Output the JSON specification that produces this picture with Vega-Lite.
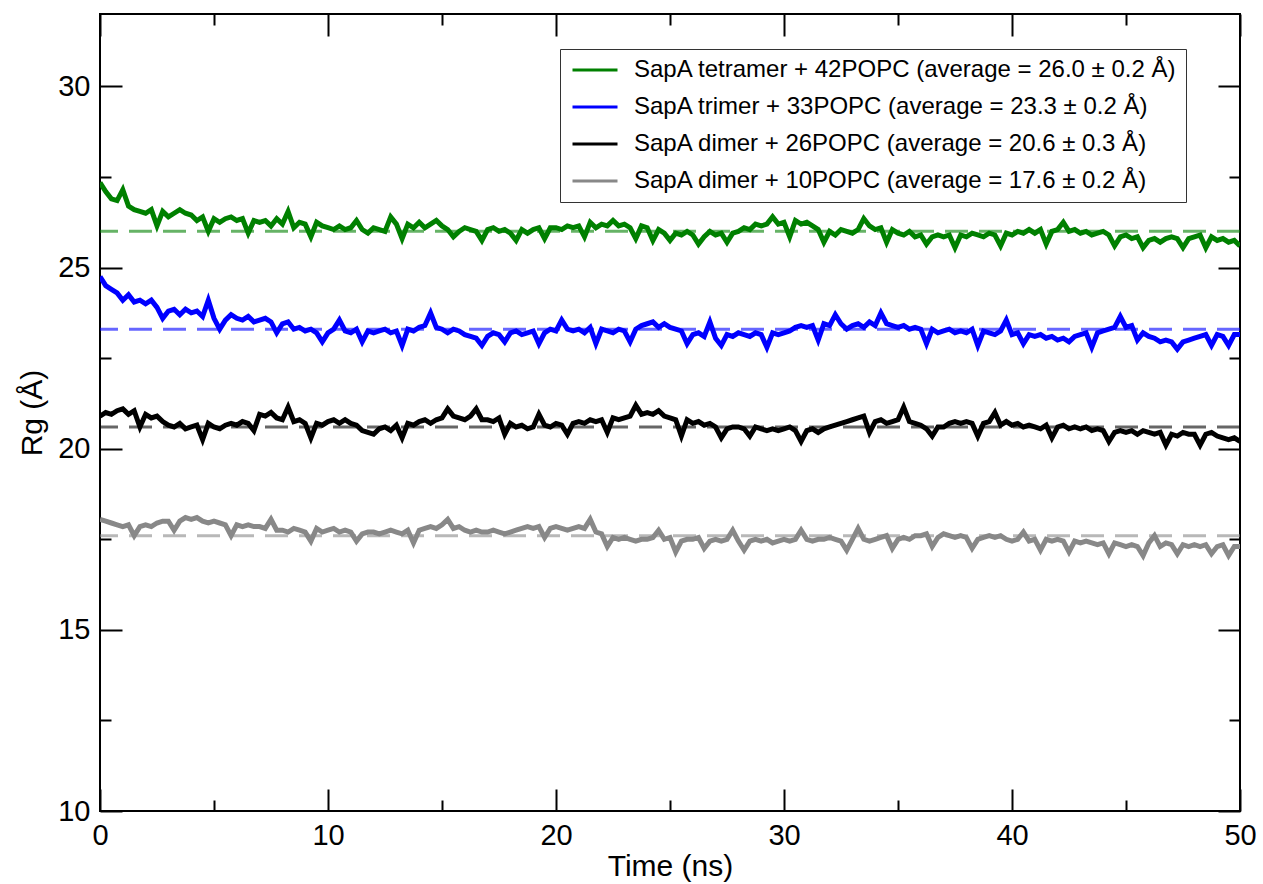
{
"$schema": "https://vega.github.io/schema/vega-lite/v6.json",
"width": 1140,
"height": 797,
"autosize": {"type": "none"},
"padding": {"left": 100, "top": 14, "right": 23, "bottom": 73},
"background": "white",
"config": {
  "font": "Liberation Sans",
  "view": {"stroke": "black", "strokeWidth": 2},
  "axis": {"domain": false, "grid": false, "tickColor": "black", "tickWidth": 2, "labelColor": "black", "titleColor": "black", "labelFont": "Liberation Sans", "titleFont": "Liberation Sans", "titleFontWeight": "normal", "labelFontSize": 29, "titleFontSize": 30, "labelFlush": false}
},
"datasets": {
"traj": [
{"t":0,"a":27.35,"b":24.75,"c":20.9,"d":18.05},
{"t":0.25,"a":27.1,"b":24.5,"c":21.0,"d":18.0},
{"t":0.5,"a":26.9,"b":24.4,"c":20.95,"d":17.95},
{"t":0.75,"a":26.85,"b":24.3,"c":21.05,"d":17.9},
{"t":1,"a":27.15,"b":24.1,"c":21.1,"d":17.85},
{"t":1.25,"a":26.7,"b":24.25,"c":20.95,"d":17.9},
{"t":1.5,"a":26.6,"b":24.05,"c":21.05,"d":17.6},
{"t":1.75,"a":26.55,"b":24.1,"c":20.6,"d":17.85},
{"t":2,"a":26.5,"b":24.0,"c":20.95,"d":17.9},
{"t":2.25,"a":26.6,"b":24.1,"c":20.85,"d":17.85},
{"t":2.5,"a":26.15,"b":23.9,"c":20.9,"d":17.95},
{"t":2.75,"a":26.55,"b":23.6,"c":20.75,"d":18.0},
{"t":3,"a":26.4,"b":23.8,"c":20.65,"d":18.0},
{"t":3.25,"a":26.5,"b":23.85,"c":20.6,"d":17.75},
{"t":3.5,"a":26.6,"b":23.7,"c":20.7,"d":18.0},
{"t":3.75,"a":26.5,"b":23.85,"c":20.55,"d":18.1},
{"t":4,"a":26.45,"b":23.75,"c":20.6,"d":18.05},
{"t":4.25,"a":26.3,"b":23.8,"c":20.65,"d":18.1},
{"t":4.5,"a":26.4,"b":23.65,"c":20.25,"d":18.0},
{"t":4.75,"a":26.0,"b":24.1,"c":20.7,"d":17.95},
{"t":5,"a":26.35,"b":23.6,"c":20.6,"d":18.0},
{"t":5.25,"a":26.25,"b":23.3,"c":20.55,"d":17.95},
{"t":5.5,"a":26.35,"b":23.55,"c":20.65,"d":17.9},
{"t":5.75,"a":26.4,"b":23.7,"c":20.7,"d":17.6},
{"t":6,"a":26.3,"b":23.6,"c":20.65,"d":17.9},
{"t":6.25,"a":26.35,"b":23.55,"c":20.75,"d":17.85},
{"t":6.5,"a":25.95,"b":23.65,"c":20.7,"d":17.9},
{"t":6.75,"a":26.3,"b":23.5,"c":20.5,"d":17.85},
{"t":7,"a":26.25,"b":23.55,"c":20.95,"d":17.85},
{"t":7.25,"a":26.3,"b":23.6,"c":20.9,"d":17.8},
{"t":7.5,"a":26.15,"b":23.5,"c":21.0,"d":18.05},
{"t":7.75,"a":26.35,"b":23.2,"c":20.85,"d":17.75},
{"t":8,"a":26.2,"b":23.45,"c":20.8,"d":17.75},
{"t":8.25,"a":26.55,"b":23.5,"c":21.15,"d":17.7},
{"t":8.5,"a":26.1,"b":23.3,"c":20.75,"d":17.8},
{"t":8.75,"a":26.25,"b":23.35,"c":20.8,"d":17.75},
{"t":9,"a":26.2,"b":23.25,"c":20.7,"d":17.7},
{"t":9.25,"a":25.85,"b":23.3,"c":20.3,"d":17.45},
{"t":9.5,"a":26.25,"b":23.2,"c":20.7,"d":17.8},
{"t":9.75,"a":26.15,"b":22.95,"c":20.65,"d":17.7},
{"t":10,"a":26.1,"b":23.2,"c":20.75,"d":17.75},
{"t":10.25,"a":26.05,"b":23.3,"c":20.8,"d":17.8},
{"t":10.5,"a":26.15,"b":23.55,"c":20.7,"d":17.7},
{"t":10.75,"a":26.05,"b":23.25,"c":20.8,"d":17.75},
{"t":11,"a":26.1,"b":23.2,"c":20.7,"d":17.7},
{"t":11.25,"a":26.3,"b":23.3,"c":20.65,"d":17.45},
{"t":11.5,"a":26.05,"b":22.95,"c":20.5,"d":17.65},
{"t":11.75,"a":25.95,"b":23.25,"c":20.45,"d":17.7},
{"t":12,"a":26.1,"b":23.2,"c":20.4,"d":17.7},
{"t":12.25,"a":26.05,"b":23.25,"c":20.55,"d":17.65},
{"t":12.5,"a":26.0,"b":23.3,"c":20.6,"d":17.7},
{"t":12.75,"a":26.4,"b":23.2,"c":20.5,"d":17.75},
{"t":13,"a":26.2,"b":23.25,"c":20.65,"d":17.7},
{"t":13.25,"a":25.8,"b":22.85,"c":20.3,"d":17.65},
{"t":13.5,"a":26.2,"b":23.3,"c":20.7,"d":17.75},
{"t":13.75,"a":26.1,"b":23.25,"c":20.65,"d":17.4},
{"t":14,"a":26.25,"b":23.35,"c":20.75,"d":17.75},
{"t":14.25,"a":26.1,"b":23.4,"c":20.8,"d":17.8},
{"t":14.5,"a":26.2,"b":23.75,"c":20.7,"d":17.85},
{"t":14.75,"a":26.3,"b":23.35,"c":20.8,"d":17.8},
{"t":15,"a":26.15,"b":23.3,"c":20.85,"d":17.9},
{"t":15.25,"a":26.05,"b":23.2,"c":21.1,"d":18.05},
{"t":15.5,"a":25.85,"b":23.3,"c":20.9,"d":17.8},
{"t":15.75,"a":26.0,"b":23.25,"c":20.85,"d":17.85},
{"t":16,"a":26.1,"b":23.15,"c":20.8,"d":17.75},
{"t":16.25,"a":26.05,"b":23.1,"c":20.9,"d":17.7},
{"t":16.5,"a":26.0,"b":23.05,"c":21.1,"d":17.75},
{"t":16.75,"a":25.75,"b":22.85,"c":20.8,"d":17.7},
{"t":17,"a":26.05,"b":23.1,"c":20.8,"d":17.7},
{"t":17.25,"a":26.1,"b":23.2,"c":20.75,"d":17.75},
{"t":17.5,"a":26.0,"b":23.15,"c":20.85,"d":17.7},
{"t":17.75,"a":26.05,"b":22.95,"c":20.4,"d":17.65},
{"t":18,"a":25.95,"b":23.2,"c":20.7,"d":17.7},
{"t":18.25,"a":25.75,"b":23.25,"c":20.6,"d":17.75},
{"t":18.5,"a":26.05,"b":23.15,"c":20.65,"d":17.8},
{"t":18.75,"a":25.95,"b":23.2,"c":20.55,"d":17.85},
{"t":19,"a":26.05,"b":23.25,"c":20.6,"d":17.8},
{"t":19.25,"a":26.1,"b":22.9,"c":20.95,"d":17.85},
{"t":19.5,"a":25.8,"b":23.2,"c":20.65,"d":17.55},
{"t":19.75,"a":26.1,"b":23.3,"c":20.6,"d":17.8},
{"t":20,"a":26.1,"b":23.25,"c":20.7,"d":17.85},
{"t":20.25,"a":26.05,"b":23.55,"c":20.65,"d":17.8},
{"t":20.5,"a":26.15,"b":23.3,"c":20.4,"d":17.75},
{"t":20.75,"a":26.1,"b":23.25,"c":20.7,"d":17.8},
{"t":21,"a":26.15,"b":23.3,"c":20.75,"d":17.85},
{"t":21.25,"a":25.85,"b":23.2,"c":20.7,"d":17.8},
{"t":21.5,"a":26.25,"b":23.35,"c":20.8,"d":18.05},
{"t":21.75,"a":26.1,"b":22.9,"c":20.75,"d":17.7},
{"t":22,"a":26.2,"b":23.3,"c":20.8,"d":17.65},
{"t":22.25,"a":26.15,"b":23.25,"c":20.45,"d":17.3},
{"t":22.5,"a":26.3,"b":23.2,"c":20.85,"d":17.55},
{"t":22.75,"a":26.15,"b":23.3,"c":20.8,"d":17.5},
{"t":23,"a":26.2,"b":23.25,"c":20.85,"d":17.55},
{"t":23.25,"a":26.1,"b":22.95,"c":20.9,"d":17.5},
{"t":23.5,"a":25.8,"b":23.3,"c":21.2,"d":17.45},
{"t":23.75,"a":26.15,"b":23.4,"c":20.95,"d":17.5},
{"t":24,"a":26.1,"b":23.45,"c":21.0,"d":17.5},
{"t":24.25,"a":25.75,"b":23.5,"c":20.95,"d":17.55},
{"t":24.5,"a":26.05,"b":23.35,"c":21.05,"d":17.75},
{"t":24.75,"a":25.95,"b":23.45,"c":20.9,"d":17.5},
{"t":25,"a":25.75,"b":23.35,"c":20.85,"d":17.55},
{"t":25.25,"a":25.95,"b":23.3,"c":20.8,"d":17.15},
{"t":25.5,"a":25.9,"b":23.25,"c":20.35,"d":17.45},
{"t":25.75,"a":26.0,"b":22.9,"c":20.8,"d":17.5},
{"t":26,"a":25.9,"b":23.15,"c":20.7,"d":17.5},
{"t":26.25,"a":25.65,"b":23.2,"c":20.75,"d":17.55},
{"t":26.5,"a":25.85,"b":23.1,"c":20.65,"d":17.25},
{"t":26.75,"a":26.0,"b":23.5,"c":20.7,"d":17.45},
{"t":27,"a":25.9,"b":23.05,"c":20.6,"d":17.5},
{"t":27.25,"a":25.95,"b":22.85,"c":20.3,"d":17.45},
{"t":27.5,"a":25.7,"b":23.15,"c":20.55,"d":17.5},
{"t":27.75,"a":25.95,"b":23.1,"c":20.6,"d":17.75},
{"t":28,"a":26.0,"b":23.2,"c":20.6,"d":17.45},
{"t":28.25,"a":26.1,"b":23.15,"c":20.55,"d":17.2},
{"t":28.5,"a":26.05,"b":23.1,"c":20.35,"d":17.45},
{"t":28.75,"a":26.2,"b":23.2,"c":20.6,"d":17.5},
{"t":29,"a":26.15,"b":23.15,"c":20.55,"d":17.45},
{"t":29.25,"a":26.2,"b":22.8,"c":20.5,"d":17.5},
{"t":29.5,"a":26.4,"b":23.2,"c":20.55,"d":17.4},
{"t":29.75,"a":26.2,"b":23.15,"c":20.5,"d":17.45},
{"t":30,"a":26.25,"b":23.2,"c":20.55,"d":17.5},
{"t":30.25,"a":25.85,"b":23.25,"c":20.6,"d":17.45},
{"t":30.5,"a":26.3,"b":23.35,"c":20.5,"d":17.5},
{"t":30.75,"a":26.2,"b":23.4,"c":20.2,"d":17.75},
{"t":31,"a":26.25,"b":23.35,"c":20.5,"d":17.5},
{"t":31.25,"a":26.15,"b":23.4,"c":20.55,"d":17.45},
{"t":31.5,"a":26.05,"b":23.0,"c":20.45,"d":17.5},
{"t":31.75,"a":25.7,"b":23.45,"c":20.55,"d":17.5},
{"t":32,"a":26.0,"b":23.4,"c":20.6,"d":17.55},
{"t":32.25,"a":25.9,"b":23.7,"c":20.65,"d":17.5},
{"t":32.5,"a":26.05,"b":23.45,"c":20.7,"d":17.45},
{"t":32.75,"a":26.0,"b":23.3,"c":20.75,"d":17.2},
{"t":33,"a":25.95,"b":23.4,"c":20.8,"d":17.5},
{"t":33.25,"a":26.05,"b":23.45,"c":20.85,"d":17.8},
{"t":33.5,"a":26.35,"b":23.35,"c":20.9,"d":17.5},
{"t":33.75,"a":26.15,"b":23.5,"c":20.45,"d":17.45},
{"t":34,"a":26.05,"b":23.4,"c":20.75,"d":17.5},
{"t":34.25,"a":26.1,"b":23.75,"c":20.8,"d":17.55},
{"t":34.5,"a":25.7,"b":23.45,"c":20.7,"d":17.6},
{"t":34.75,"a":26.05,"b":23.4,"c":20.75,"d":17.25},
{"t":35,"a":25.95,"b":23.35,"c":20.8,"d":17.5},
{"t":35.25,"a":25.9,"b":23.4,"c":21.15,"d":17.55},
{"t":35.5,"a":26.0,"b":23.3,"c":20.75,"d":17.5},
{"t":35.75,"a":25.85,"b":23.35,"c":20.7,"d":17.6},
{"t":36,"a":25.9,"b":23.3,"c":20.65,"d":17.6},
{"t":36.25,"a":25.65,"b":22.9,"c":20.55,"d":17.65},
{"t":36.5,"a":25.85,"b":23.3,"c":20.35,"d":17.3},
{"t":36.75,"a":25.9,"b":23.2,"c":20.6,"d":17.55},
{"t":37,"a":25.85,"b":23.25,"c":20.6,"d":17.65},
{"t":37.25,"a":25.9,"b":23.3,"c":20.7,"d":17.6},
{"t":37.5,"a":25.55,"b":23.2,"c":20.75,"d":17.55},
{"t":37.75,"a":25.9,"b":23.25,"c":20.7,"d":17.6},
{"t":38,"a":25.85,"b":23.2,"c":20.75,"d":17.55},
{"t":38.25,"a":25.95,"b":23.3,"c":20.7,"d":17.25},
{"t":38.5,"a":25.9,"b":22.85,"c":20.35,"d":17.5},
{"t":38.75,"a":25.85,"b":23.25,"c":20.7,"d":17.55},
{"t":39,"a":25.95,"b":23.2,"c":20.75,"d":17.6},
{"t":39.25,"a":25.9,"b":23.15,"c":21.0,"d":17.55},
{"t":39.5,"a":25.6,"b":23.25,"c":20.65,"d":17.6},
{"t":39.75,"a":25.95,"b":23.55,"c":20.75,"d":17.5},
{"t":40,"a":25.9,"b":23.15,"c":20.65,"d":17.45},
{"t":40.25,"a":26.0,"b":23.2,"c":20.7,"d":17.5},
{"t":40.5,"a":25.95,"b":22.9,"c":20.6,"d":17.7},
{"t":40.75,"a":26.05,"b":23.15,"c":20.65,"d":17.45},
{"t":41,"a":25.95,"b":23.1,"c":20.6,"d":17.5},
{"t":41.25,"a":26.05,"b":23.15,"c":20.55,"d":17.2},
{"t":41.5,"a":25.65,"b":23.05,"c":20.65,"d":17.5},
{"t":41.75,"a":26.0,"b":23.1,"c":20.3,"d":17.45},
{"t":42,"a":26.05,"b":23.0,"c":20.6,"d":17.5},
{"t":42.25,"a":26.25,"b":23.05,"c":20.65,"d":17.45},
{"t":42.5,"a":26.0,"b":22.95,"c":20.55,"d":17.15},
{"t":42.75,"a":26.05,"b":23.1,"c":20.6,"d":17.45},
{"t":43,"a":25.95,"b":23.15,"c":20.55,"d":17.4},
{"t":43.25,"a":26.0,"b":23.2,"c":20.6,"d":17.45},
{"t":43.5,"a":25.9,"b":22.8,"c":20.5,"d":17.4},
{"t":43.75,"a":25.95,"b":23.2,"c":20.55,"d":17.35},
{"t":44,"a":26.0,"b":23.25,"c":20.5,"d":17.4},
{"t":44.25,"a":25.9,"b":23.3,"c":20.2,"d":17.1},
{"t":44.5,"a":25.6,"b":23.35,"c":20.45,"d":17.4},
{"t":44.75,"a":25.85,"b":23.65,"c":20.5,"d":17.35},
{"t":45,"a":25.9,"b":23.35,"c":20.45,"d":17.3},
{"t":45.25,"a":25.8,"b":23.4,"c":20.5,"d":17.35},
{"t":45.5,"a":25.85,"b":23.0,"c":20.4,"d":17.3},
{"t":45.75,"a":25.55,"b":23.2,"c":20.5,"d":17.05},
{"t":46,"a":25.75,"b":23.1,"c":20.45,"d":17.4},
{"t":46.25,"a":25.8,"b":23.05,"c":20.4,"d":17.6},
{"t":46.5,"a":25.7,"b":22.95,"c":20.45,"d":17.3},
{"t":46.75,"a":25.8,"b":23.0,"c":20.1,"d":17.4},
{"t":47,"a":25.85,"b":22.95,"c":20.4,"d":17.35},
{"t":47.25,"a":25.8,"b":22.75,"c":20.35,"d":17.1},
{"t":47.5,"a":25.55,"b":22.95,"c":20.45,"d":17.35},
{"t":47.75,"a":25.8,"b":23.0,"c":20.4,"d":17.3},
{"t":48,"a":25.85,"b":23.05,"c":20.4,"d":17.35},
{"t":48.25,"a":25.9,"b":23.1,"c":20.1,"d":17.3},
{"t":48.5,"a":25.55,"b":23.15,"c":20.4,"d":17.35},
{"t":48.75,"a":25.85,"b":22.85,"c":20.45,"d":17.1},
{"t":49,"a":25.75,"b":23.15,"c":20.35,"d":17.3},
{"t":49.25,"a":25.8,"b":23.1,"c":20.3,"d":17.35},
{"t":49.5,"a":25.7,"b":22.85,"c":20.25,"d":17.05},
{"t":49.75,"a":25.75,"b":23.15,"c":20.3,"d":17.3},
{"t":50,"a":25.6,"b":23.15,"c":20.2,"d":17.3}
],
"avg": [
{"series":"a","avg":26.0},
{"series":"b","avg":23.3},
{"series":"c","avg":20.6},
{"series":"d","avg":17.6}
]
},
"layer": [
{
  "data": {"name": "traj"},
  "transform": [{"fold": ["a", "b", "c", "d"], "as": ["series", "rg"]}],
  "mark": {"type": "line", "strokeWidth": 5, "clip": true},
  "encoding": {
    "x": {"field": "t", "type": "quantitative", "scale": {"domain": [0, 50], "nice": false},
      "axis": {"orient": "bottom", "values": [0,5,10,15,20,25,30,35,40,45,50], "labelExpr": "datum.value % 10 === 0 ? datum.label : ''", "tickSize": {"condition": {"test": "datum.value % 10 === 0", "value": -22}, "value": -11}, "labelPadding": 32, "title": "Time (ns)", "titlePadding": 1}},
    "y": {"field": "rg", "type": "quantitative", "scale": {"domain": [10, 32], "nice": false, "zero": false},
      "axis": {"orient": "left", "values": [10,12.5,15,17.5,20,22.5,25,27.5,30], "labelExpr": "datum.value % 5 === 0 ? datum.label : ''", "tickSize": {"condition": {"test": "datum.value % 5 === 0", "value": -22}, "value": -11}, "labelPadding": 32, "title": "Rg (Å)", "titlePadding": 10}},
    "color": {"field": "series", "type": "nominal",
      "scale": {"domain": ["a", "b", "c", "d"], "range": ["#008000", "#0000ff", "#000000", "#888888"]},
      "legend": {"orient": "none", "legendX": 460, "legendY": 35, "title": null, "direction": "vertical",
        "symbolType": "M-3,0H3", "symbolSize": 225, "symbolStrokeWidth": 3, "symbolOffset": 14,
        "labelFontSize": 24, "labelFont": "Liberation Sans", "labelColor": "black", "labelLimit": 1000, "labelOffset": 27,
        "strokeColor": "#333333", "fillColor": "white", "padding": 9, "rowPadding": 13,
        "labelExpr": "{'a': 'SapA tetramer + 42POPC (average = 26.0 ± 0.2 Å)', 'b': 'SapA trimer + 33POPC (average = 23.3 ± 0.2 Å)', 'c': 'SapA dimer + 26POPC (average = 20.6 ± 0.3 Å)', 'd': 'SapA dimer + 10POPC (average = 17.6 ± 0.2 Å)'}[datum.label]"}}
  }
},
{
  "data": {"name": "avg"},
  "mark": {"type": "rule", "strokeWidth": 3, "strokeDash": [23, 11], "opacity": 0.6},
  "encoding": {
    "y": {"field": "avg", "type": "quantitative", "scale": {"domain": [10, 32], "nice": false, "zero": false}, "axis": null},
    "color": {"field": "series", "type": "nominal", "legend": null}
  }
},
{
  "data": {"name": "traj"},
  "mark": {"type": "point", "opacity": 0},
  "encoding": {
    "x": {"field": "t", "type": "quantitative", "scale": {"domain": [0, 50], "nice": false},
      "axis": {"orient": "top", "values": [0,5,10,15,20,25,30,35,40,45,50], "labels": false, "title": null, "tickSize": {"condition": {"test": "datum.value % 10 === 0", "value": -22}, "value": -11}}},
    "y": {"field": "a", "type": "quantitative", "scale": {"domain": [10, 32], "nice": false, "zero": false},
      "axis": {"orient": "right", "values": [10,12.5,15,17.5,20,22.5,25,27.5,30], "labels": false, "title": null, "tickSize": {"condition": {"test": "datum.value % 5 === 0", "value": -22}, "value": -11}}}
  }
}
],
"resolve": {"axis": {"x": "independent", "y": "independent"}, "legend": {"color": "independent"}}
}
